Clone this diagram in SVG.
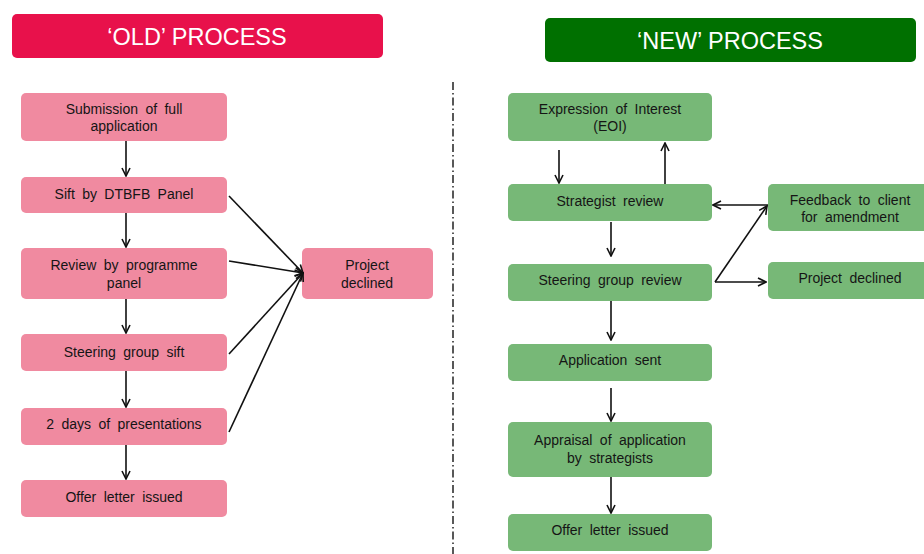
<svg xmlns="http://www.w3.org/2000/svg" width="924" height="554" viewBox="0 0 924 554">
  <defs>
    <marker id="arr" viewBox="0 0 10 10" refX="9" refY="5" markerWidth="10" markerHeight="10" markerUnits="userSpaceOnUse" orient="auto">
      <path d="M1,1 L9,5 L1,9" fill="none" stroke="#111" stroke-width="1.6"/>
    </marker>
  </defs>
  <style>
    .hdr-old { fill: #E8114B; }
    .hdr-new { fill: #007000; }
    .hdr-t { font-family: "Liberation Sans", Arial, sans-serif; font-size: 23.5px; fill: #ffffff; text-anchor: middle; }
    .old { fill: #F08AA0; }
    .new { fill: #77B877; }
    .t { font-family: "Liberation Sans", Arial, sans-serif; font-size: 14px; fill: #151515; text-anchor: middle; word-spacing: 3.5px; }
    .c { stroke: #111; stroke-width: 1.6; fill: none; marker-end: url(#arr); }
    .div { stroke: #222; stroke-width: 1.5; stroke-dasharray: 8 3 1.5 3; }
  </style>
  <rect width="924" height="554" fill="#ffffff"/>

  <!-- headings -->
  <g id="heading-old">
    <rect class="hdr-old" x="12" y="14" width="371" height="44" rx="5"/>
    <text class="hdr-t" x="197" y="45">‘OLD’ PROCESS</text>
  </g>
  <g id="heading-new">
    <rect class="hdr-new" x="545" y="18" width="371" height="44" rx="5"/>
    <text class="hdr-t" x="730" y="49">‘NEW’ PROCESS</text>
  </g>

  <!-- divider -->
  <line class="div" x1="453" y1="82" x2="453" y2="554"/>

  <!-- old process -->
  <g id="old-submission">
    <rect class="old" x="21" y="93" width="206" height="48" rx="5"/>
    <text class="t" x="124" y="114">Submission of full</text>
    <text class="t" x="124" y="131">application</text>
  </g>
  <g id="old-sift">
    <rect class="old" x="21" y="177" width="206" height="36" rx="5"/>
    <text class="t" x="124" y="199">Sift by DTBFB Panel</text>
  </g>
  <g id="old-review">
    <rect class="old" x="21" y="248" width="206" height="51" rx="5"/>
    <text class="t" x="124" y="270">Review by programme</text>
    <text class="t" x="124" y="288">panel</text>
  </g>
  <g id="old-steering">
    <rect class="old" x="21" y="334" width="206" height="37" rx="5"/>
    <text class="t" x="124" y="357">Steering group sift</text>
  </g>
  <g id="old-presentations">
    <rect class="old" x="21" y="408" width="206" height="37" rx="5"/>
    <text class="t" x="124" y="429">2 days of presentations</text>
  </g>
  <g id="old-offer">
    <rect class="old" x="21" y="480" width="206" height="37" rx="5"/>
    <text class="t" x="124" y="502">Offer letter issued</text>
  </g>
  <g id="old-declined">
    <rect class="old" x="302" y="248" width="131" height="51" rx="5"/>
    <text class="t" x="367" y="270">Project</text>
    <text class="t" x="367" y="288">declined</text>
  </g>

  <!-- new process -->
  <g id="new-eoi">
    <rect class="new" x="508" y="93" width="204" height="48" rx="5"/>
    <text class="t" x="610" y="114">Expression of Interest</text>
    <text class="t" x="610" y="131">(EOI)</text>
  </g>
  <g id="new-strategist">
    <rect class="new" x="508" y="184" width="204" height="37" rx="5"/>
    <text class="t" x="610" y="206">Strategist review</text>
  </g>
  <g id="new-steering">
    <rect class="new" x="508" y="264" width="204" height="37" rx="5"/>
    <text class="t" x="610" y="285">Steering group review</text>
  </g>
  <g id="new-feedback">
    <rect class="new" x="768" y="184" width="164" height="47" rx="5"/>
    <text class="t" x="850" y="205">Feedback to client</text>
    <text class="t" x="850" y="222">for amendment</text>
  </g>
  <g id="new-declined">
    <rect class="new" x="768" y="262" width="164" height="37" rx="5"/>
    <text class="t" x="850" y="283">Project declined</text>
  </g>
  <g id="new-sent">
    <rect class="new" x="508" y="344" width="204" height="37" rx="5"/>
    <text class="t" x="610" y="365">Application sent</text>
  </g>
  <g id="new-appraisal">
    <rect class="new" x="508" y="422" width="204" height="55" rx="5"/>
    <text class="t" x="610" y="445">Appraisal of application</text>
    <text class="t" x="610" y="463">by strategists</text>
  </g>
  <g id="new-offer">
    <rect class="new" x="508" y="514" width="204" height="37" rx="5"/>
    <text class="t" x="610" y="535">Offer letter issued</text>
  </g>

  <!-- connectors -->
  <g id="connectors">
    <line class="c" x1="126" y1="141" x2="126" y2="176"/>
    <line class="c" x1="126" y1="213" x2="126" y2="247"/>
    <line class="c" x1="126" y1="299" x2="126" y2="333"/>
    <line class="c" x1="126" y1="371" x2="126" y2="407"/>
    <line class="c" x1="126" y1="445" x2="126" y2="479"/>
    <line class="c" x1="229" y1="196" x2="303" y2="273"/>
    <line class="c" x1="229" y1="261" x2="303" y2="273"/>
    <line class="c" x1="229" y1="354" x2="303" y2="273"/>
    <line class="c" x1="229" y1="432" x2="303" y2="273"/>

    <line class="c" x1="559" y1="150" x2="559" y2="183"/>
    <line class="c" x1="665" y1="184" x2="665" y2="143"/>
    <line class="c" x1="611" y1="222" x2="611" y2="256"/>
    <line class="c" x1="768" y1="205" x2="713" y2="205"/>
    <line class="c" x1="715" y1="282" x2="767" y2="206"/>
    <line class="c" x1="715" y1="282" x2="766" y2="282"/>
    <line class="c" x1="611" y1="301" x2="611" y2="340"/>
    <line class="c" x1="611" y1="388" x2="611" y2="421"/>
    <line class="c" x1="611" y1="477" x2="611" y2="513"/>
  </g>
</svg>
